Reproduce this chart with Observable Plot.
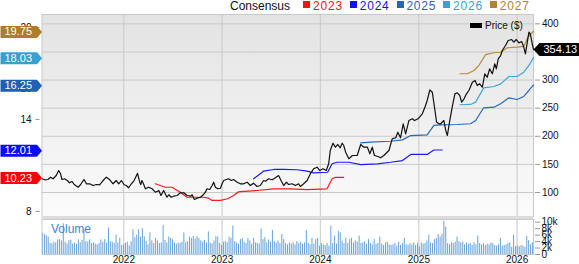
<!DOCTYPE html>
<html><head><meta charset="utf-8">
<script src="https://cdn.jsdelivr.net/npm/d3@7"></script>
<script src="https://cdn.jsdelivr.net/npm/@observablehq/plot@0.6"></script>
<style>
html,body{margin:0;padding:0;background:#fff;}
#chart{position:relative;width:579px;height:264px;overflow:hidden;font-family:Arial,"Liberation Sans",Helvetica,sans-serif;color:#111;}
#chart svg{position:absolute;left:0;top:0;}
.lg{position:absolute;white-space:nowrap;}
</style></head><body><div id="chart"></div>
<script>
// ---------------- data ----------------
const yearTicks = ["2022","2023","2024","2025","2026"];
const priceTicks = [100,150,200,250,300,350,400];
const epsTicks = [8,10,12,14,16,18,20];
const volumeTicks = [0,2,4,6,8,10];
const consensusYears = ["2023","2024","2025","2026","2027"];
const consensusFinal = [10.23,12.01,16.25,18.03,19.75];
const lastPrice = 354.13;

const price = [
["2021-03-03",124.4],["2021-03-13",122.6],["2021-03-25",123.1],["2021-04-04",127.2],["2021-04-13",124.4],
["2021-04-25",130.2],["2021-05-04",139.1],["2021-05-11",133.3],["2021-05-16",123.1],["2021-05-26",124.4],
["2021-06-05",121.3],["2021-06-13",117.3],["2021-06-22",119.6],["2021-07-02",113.7],["2021-07-15",109.4],
["2021-07-24",113.7],["2021-08-06",123.1],["2021-08-15",115.5],["2021-08-27",115.5],["2021-09-09",112.4],
["2021-09-21",114.2],["2021-10-03",113.7],["2021-10-16",121.3],["2021-10-28",127.2],["2021-11-09",123.1],
["2021-11-22",115.5],["2021-12-04",121.3],["2021-12-13",115.5],["2021-12-23",121.3],["2022-01-02",113.7],
["2022-01-10",112.4],["2022-01-19",108.4],["2022-01-29",115.5],["2022-02-08",121.3],["2022-02-14",127.2],
["2022-02-21",134.0],["2022-03-01",118.3],["2022-03-05",114.2],["2022-03-09",121.3],["2022-03-15",115.5],
["2022-03-22",106.6],["2022-04-03",109.4],["2022-04-16",106.6],["2022-04-28",100.5],["2022-05-11",103.6],
["2022-05-19",94.7],["2022-05-29",103.6],["2022-06-04",97.7],["2022-06-10",91.6],["2022-06-17",95.9],
["2022-06-26",91.6],["2022-07-05",93.4],["2022-07-18",94.7],["2022-07-30",99.5],["2022-08-12",99.5],
["2022-08-24",94.7],["2022-09-06",93.4],["2022-09-12",95.9],["2022-09-20",87.6],["2022-09-30",89.9],
["2022-10-13",91.6],["2022-10-23",95.9],["2022-10-31",100.5],["2022-11-06",106.6],["2022-11-16",105.3],
["2022-11-25",112.4],["2022-12-01",118.3],["2022-12-07",109.4],["2022-12-16",106.6],["2022-12-26",107.6],
["2023-01-01",115.5],["2023-01-07",121.3],["2023-01-17",123.1],["2023-01-25",124.4],["2023-02-04",121.3],
["2023-02-13",123.1],["2023-02-26",118.3],["2023-03-10",115.5],["2023-03-22",115.5],["2023-04-04",118.3],
["2023-04-16",112.4],["2023-04-28",116.5],["2023-05-11",110.7],["2023-05-23",112.4],["2023-06-04",121.3],
["2023-06-11",120.1],["2023-06-23",124.4],["2023-07-06",122.6],["2023-07-18",126.1],["2023-07-30",130.2],
["2023-08-08",121.3],["2023-08-18",112.4],["2023-08-28",118.3],["2023-09-05",114.2],["2023-09-18",115.5],
["2023-09-30",112.4],["2023-10-12",115.5],["2023-10-19",110.7],["2023-10-31",115.5],["2023-11-13",121.3],
["2023-11-25",133.3],["2023-12-07",142.1],["2023-12-20",145.0],["2023-12-30",139.1],["2024-01-11",142.1],
["2024-01-23",139.1],["2024-02-01",151.0],["2024-02-07",174.7],["2024-02-17",187.7],["2024-02-26",180.6],
["2024-03-06",185.4],["2024-03-15",179.5],["2024-03-22",187.7],["2024-03-28",183.6],["2024-04-04",171.7],
["2024-04-16",159.9],["2024-04-29",165.8],["2024-05-17",165.8],["2024-05-30",185.4],["2024-06-11",180.6],
["2024-06-24",180.6],["2024-07-03",168.8],["2024-07-12",180.6],["2024-07-20",165.8],["2024-08-02",164.0],
["2024-08-12",161.7],["2024-08-24",165.8],["2024-09-12",174.7],["2024-09-24",195.5],["2024-10-07",197.3],
["2024-10-15",207.2],["2024-10-25",197.3],["2024-11-04",222.2],["2024-11-13",204.4],["2024-11-25",228.0],
["2024-12-08",231.1],["2024-12-16",228.0],["2024-12-29",231.1],["2025-01-14",240.0],["2025-01-26",254.7],
["2025-02-01",263.6],["2025-02-11",282.6],["2025-02-20",278.4],["2025-03-01",248.9],["2025-03-08",225.0],
["2025-03-17",222.2],["2025-03-23",222.2],["2025-04-04",228.0],["2025-04-11",210.3],["2025-04-17",201.4],
["2025-04-25",225.0],["2025-05-06",254.7],["2025-05-15",275.5],["2025-05-24",277.3],["2025-06-02",272.5],
["2025-06-09",260.6],["2025-06-18",266.6],["2025-06-27",275.5],["2025-07-06",281.4],["2025-07-19",296.2],
["2025-07-29",299.2],["2025-08-06",290.3],["2025-08-15",293.3],["2025-08-25",287.3],["2025-09-03",311.1],
["2025-09-12",305.0],["2025-09-21",320.0],["2025-10-01",311.1],["2025-10-10",328.9],["2025-10-16",320.0],
["2025-10-23",337.8],["2025-11-01",343.6],["2025-11-07",352.5],["2025-11-19",361.4],["2025-11-29",370.3],
["2025-12-12",372.1],["2025-12-20",367.3],["2025-12-29",372.1],["2026-01-08",366.2],["2026-01-18",368.5],
["2026-01-26",358.4],["2026-02-01",346.7],["2026-02-08",367.3],["2026-02-14",385.1],["2026-02-19",382.2],
["2026-02-27",363.2],["2026-03-03",354.13]
];

const eps2023 = [["2022-04-28",9.81],["2022-06-04",9.58],["2022-06-29",9.58],["2022-07-30",9.26],["2022-08-24",8.93],
["2022-10-06",8.93],["2022-10-25",8.93],["2022-11-12",8.87],["2022-11-25",8.72],["2022-12-26",8.72],["2023-01-22",8.83],
["2023-02-13",9.04],["2023-02-28",9.26],["2023-03-10",9.30],["2023-05-11",9.37],["2023-07-12",9.48],["2023-09-12",9.48],
["2023-11-13",9.43],["2024-01-26",9.48],["2024-02-14",10.13],["2024-02-26",10.23],["2024-03-28",10.23]];
const eps2024 = [["2023-04-28",10.13],["2023-06-04",10.63],["2023-07-12",10.74],["2023-08-18",10.74],["2023-10-06",10.72],
["2023-11-13",10.63],["2023-12-07",10.52],["2024-01-28",10.56],["2024-02-14",11.11],["2024-03-03",11.21],["2024-04-16",11.21],
["2024-05-30",11.06],["2024-07-31",11.11],["2024-09-18",11.21],["2024-11-01",11.32],["2024-12-02",11.72],["2025-02-01",11.72],
["2025-02-26",12.01],["2025-03-29",12.01]];
const eps2025 = [["2024-05-30",12.47],["2024-07-06",12.52],["2024-09-18",12.58],["2024-11-01",12.67],["2024-12-02",12.95],
["2025-02-01",13.00],["2025-02-26",13.61],["2025-03-23",13.65],["2025-05-24",13.67],["2025-07-12",13.72],["2025-07-31",13.93],
["2025-08-30",14.76],["2025-10-07",14.80],["2025-11-01",15.02],["2025-12-02",15.41],["2026-01-01",15.30],["2026-01-26",15.50],
["2026-02-14",15.89],["2026-03-03",16.25]];
const eps2026 = [["2025-06-03",14.96],["2025-07-12",14.98],["2025-07-31",15.13],["2025-08-30",16.06],["2025-10-07",16.15],
["2025-11-01",16.32],["2025-12-02",16.80],["2026-01-01",16.80],["2026-01-26",17.08],["2026-02-14",17.52],["2026-03-03",18.03]];
const eps2027 = [["2025-06-03",16.98],["2025-06-30",16.98],["2025-07-25",17.19],["2025-08-12",17.52],["2025-09-06",18.23],
["2025-10-07",18.35],["2025-11-01",18.38],["2025-11-25",18.67],["2026-01-01",18.71],["2026-01-26",18.76],["2026-02-10",19.36],
["2026-03-03",19.75]];

const volumeStart = "2021-03-05"; // weekly bars
const volumeK = [
6.6,6.2,5.8,5.4,3.4,3.3,3.8,3.6,4.5,4.6,
4.2,9.5,3.8,3.3,4.3,4.4,3.2,3.5,3.2,4.5,
3.6,4.4,7.7,4.0,3.8,4.5,3.4,3.6,3.2,3.0,
3.4,4.5,3.8,4.6,3.5,8.2,4.0,3.8,3.4,6.0,
3.6,5.0,2.8,3.0,3.5,3.8,2.7,4.0,7.7,5.2,
6.0,7.7,5.4,8.0,5.5,4.0,3.0,6.7,4.2,3.4,
5.0,4.2,3.4,3.6,9.0,4.4,3.6,5.4,5.0,4.6,
3.6,3.2,3.5,3.5,3.8,6.7,3.6,4.0,5.4,5.0,
5.6,4.8,5.6,5.0,4.2,3.8,4.4,3.6,7.0,3.5,
3.3,4.2,5.6,5.4,3.4,2.8,3.8,4.0,3.6,5.4,
5.0,8.8,4.0,3.6,3.2,4.6,5.0,3.8,3.4,5.0,
4.2,3.2,5.0,3.6,3.5,3.2,7.9,4.6,5.2,3.6,
4.5,3.8,7.5,4.0,3.6,4.2,3.4,6.2,4.6,3.4,
3.0,3.6,3.2,3.6,3.0,4.0,3.4,3.8,3.2,3.6,
7.4,3.4,3.0,5.0,3.2,4.6,5.0,2.6,3.4,3.0,
2.8,3.4,2.6,8.8,3.4,5.7,3.2,7.2,6.7,4.2,
3.4,5.0,3.4,4.6,5.0,3.6,4.2,3.8,5.7,3.4,
3.6,4.0,3.2,4.6,3.4,3.0,4.6,3.2,3.4,5.4,
3.2,2.8,3.6,3.8,3.0,2.8,3.0,3.4,2.6,3.8,
2.8,3.4,5.0,3.0,2.8,3.4,3.0,3.6,2.8,3.4,
2.4,3.6,3.2,3.4,4.2,6.0,3.6,3.4,4.6,5.0,
6.2,5.4,6.2,10.3,8.5,3.4,3.0,3.6,3.4,3.8,
5.4,4.0,3.6,3.8,3.0,3.6,3.2,3.4,2.8,3.6,
3.0,5.7,3.4,3.0,3.4,2.8,3.2,3.0,3.6,3.4,
2.8,2.6,3.0,5.0,2.6,2.8,3.0,3.4,3.6,2.2,
6.0,2.4,2.6,2.4,2.8,2.6,2.2,5.6,4.3,3.0,
3.6];

// ---------------- styles ----------------
const lineColors  = ["#ff1a1a","#1a1aff","#2767bd","#3fa6da","#bb8a3c"];
const badgeColors = ["#ff0000","#0b0bf5","#1f60b0","#38a0d0","#b07c2c"];
const legendColors= ["#f01515","#1111ee","#2a64b4","#38a2d6","#b3812f"];
const W = 579, H = 264, ML = 41.5, MR = 46;
const priceTop = 14, priceBottom = 216, volTop = 219, volBottom = 254;
const font = "Arial, 'Liberation Sans', Helvetica, sans-serif";
const gridColor = "#c9c9c9";

const parse = d3.utcParse("%Y-%m-%d");
const xDomain = [parse("2021-03-03"), parse("2026-03-03")];
const yearDates = yearTicks.map(y => parse(y + "-01-01"));
const priceData = price.map(([d, v]) => ({date: parse(d), v}));
const series = [eps2023, eps2024, eps2025, eps2026, eps2027].map(a => a.map(([d, v]) => ({date: parse(d), v})));
const v0 = parse(volumeStart);
const volumeData = volumeK.map((v, i) => ({date: d3.utcDay.offset(v0, 7 * i), v}));

const common = {width: W, height: H, marginLeft: ML, marginRight: MR,
  style: {background: "transparent", fontFamily: font, fontSize: "10px", overflow: "visible"}};
const xOpt = {type: "utc", domain: xDomain, axis: null};
const priceY = {domain: [57.3, 416.6], axis: null};
const epsY = {domain: [7.674, 20.842], axis: null};

const chart = document.getElementById("chart");

// background + grid + price axis
const bgDefs = () => {
  const defs = d3.create("svg:defs");
  const g = defs.append("linearGradient").attr("id", "bgGrad").attr("x1", 0).attr("x2", 0).attr("y1", 0).attr("y2", 1);
  g.append("stop").attr("offset", "0%").attr("stop-color", "#e3e3e3");
  g.append("stop").attr("offset", "100%").attr("stop-color", "#fbfbfb");
  return defs.node();
};
chart.append(Plot.plot({...common, marginTop: priceTop, marginBottom: H - priceBottom, x: xOpt, y: priceY,
  marks: [
    bgDefs,
    Plot.frame({fill: "url(#bgGrad)", stroke: "none"}),
    Plot.gridY(priceTicks, {stroke: gridColor, strokeOpacity: 1}),
    Plot.gridX(yearDates, {stroke: gridColor, strokeOpacity: 1}),
    Plot.frame({stroke: gridColor}),
    Plot.axisY(priceTicks, {anchor: "right", tickSize: 5, tickPadding: 2.5, dx: 1, stroke: "#999", fill: "#111", fontSize: 10, label: null})
  ]}));

// volume panel
chart.append(Plot.plot({...common, marginTop: volTop, marginBottom: H - volBottom, x: xOpt, y: {domain: [0, 10.836], axis: null},
  marks: [
    Plot.frame({fill: "#fff", stroke: "none"}),
    Plot.gridX(yearDates, {stroke: gridColor, strokeOpacity: 1}),
    Plot.ruleX(volumeData, {x: "date", y1: 0, y2: "v", stroke: "#66a3db", strokeWidth: 1}),
    Plot.frame({stroke: gridColor}),
    Plot.text(["Volume"], {frameAnchor: "top-left", dx: 9, dy: 10, lineAnchor: "middle", textAnchor: "start", fill: "#3d8ad2", fontSize: 12}),
    Plot.axisY(volumeTicks, {anchor: "right", tickSize: 5, tickPadding: 2, dx: 1, stroke: "#999", fill: "#111", fontSize: 10, tickFormat: d => d === 0 ? "0" : d + "k", label: null}),
    Plot.axisX(yearDates, {anchor: "bottom", tickSize: 0, tickPadding: 1.5, fill: "#111", fontSize: 10, tickFormat: d3.utcFormat("%Y"), label: null})
  ]}));

// EPS consensus lines + left axis + badges
const leftBadge = {draw(ctx) { ctx.moveTo(0, 0); ctx.lineTo(-5, -6); ctx.lineTo(-41.5, -6); ctx.lineTo(-41.5, 6); ctx.lineTo(-5, 6); ctx.closePath(); }};
const rightBadge = {draw(ctx) { ctx.moveTo(0, 0); ctx.lineTo(6, -6.5); ctx.lineTo(46, -6.5); ctx.lineTo(46, 6.5); ctx.lineTo(6, 6.5); ctx.closePath(); }};
chart.append(Plot.plot({...common, marginTop: priceTop, marginBottom: H - priceBottom, x: xOpt, y: epsY,
  marks: [
    Plot.axisY(epsTicks, {anchor: "left", tickSize: 4, tickPadding: 4.5, dx: -2, stroke: "#999", fill: "#111", fontSize: 10, label: null}),
    ...series.map((s, i) => Plot.line(s, {x: "date", y: "v", stroke: lineColors[i], strokeWidth: 1.2})),
    ...consensusFinal.map((v, i) => Plot.dot([v], {y: d => d, frameAnchor: "left", dy: 0.7, symbol: leftBadge, r: 5, fill: badgeColors[i], stroke: "none"})),
    ...consensusFinal.map((v, i) => Plot.text([v], {y: d => d, frameAnchor: "left", dx: -37.5, dy: 0.7, textAnchor: "start", text: d => d.toFixed(2), fill: "#fff", fontSize: 11}))
  ]}));

// price line + last price badge
chart.append(Plot.plot({...common, marginTop: priceTop, marginBottom: H - priceBottom, x: xOpt, y: priceY,
  marks: [
    Plot.line(priceData, {x: "date", y: "v", stroke: "#111", strokeWidth: 1.2}),
    Plot.dot([lastPrice], {y: d => d, frameAnchor: "right", symbol: rightBadge, r: 5, fill: "#000", stroke: "none"}),
    Plot.text([lastPrice], {y: d => d, frameAnchor: "right", dx: 10, textAnchor: "start", text: d => d.toFixed(2), fill: "#fff", fontSize: 11})
  ]}));

// separator between panels
const sep = document.createElement("div");
sep.style.cssText = `position:absolute;left:${ML}px;top:${priceBottom}px;width:${W - ML - MR}px;height:${volTop - priceBottom}px;background:#dcdcdc;`;
chart.append(sep);

// legends
function addText(txt, left, top, size, color, spacing) {
  const s = document.createElement("div");
  s.className = "lg"; s.textContent = txt;
  s.style.cssText += `left:${left}px;top:${top}px;font-size:${size}px;line-height:14px;color:${color};letter-spacing:${spacing || 0}px;`;
  chart.append(s); return s;
}
function addBox(left, top, w, h, color) {
  const b = document.createElement("div");
  b.style.cssText = `position:absolute;left:${left}px;top:${top}px;width:${w}px;height:${h}px;background:${color};`;
  chart.append(b);
}
addText("Consensus", 230, -1, 12, "#111");
consensusYears.forEach((y, i) => {
  addBox(303.3 + 46.7 * i, 1, 7, 7, legendColors[i]);
  addText(y, 313 + 46.7 * i, -1.5, 12, legendColors[i], 0.8);
});
addBox(470, 23, 11.5, 4.5, "#000");
addText("Price ($)", 485, 18.5, 10, "#111");
</script></body></html>
